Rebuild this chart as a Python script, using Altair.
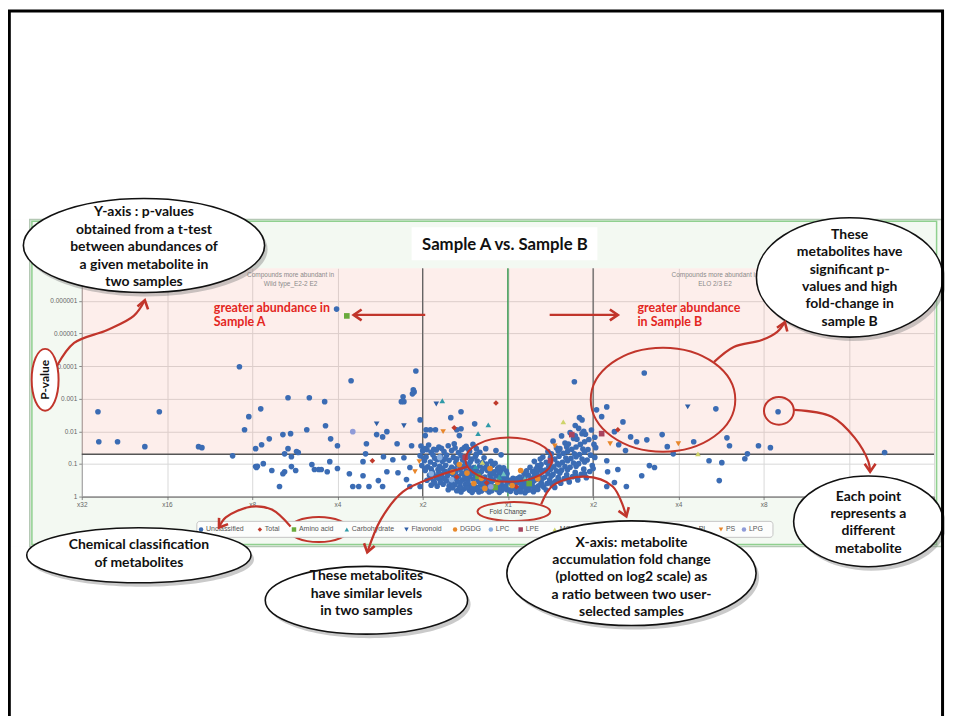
import altair as alt
import pandas as pd

# ---------------- metabolite points ----------------
# each pair: (log2 fold change, -log10 p-value)
unclassified_outer = [
    (-4.81, 2.60), (-4.80, 1.68), (-4.58, 1.68), (-4.26, 1.53), (-4.09, 2.60),
    (-3.63, 1.53), (-3.59, 1.50), (-3.23, 1.25), (-3.15, 3.98), (-3.09, 2.05),
    (-3.04, 2.45), (-2.90, 2.69), (-2.58, 3.03), (-2.96, 1.47), (-2.89, 1.59),
    (-2.80, 1.77), (-2.64, 1.90), (-2.55, 1.93), (-2.58, 1.47), (-2.62, 1.31),
    (-2.54, 1.22), (-2.96, 0.92), (-2.94, 0.93), (-2.95, 0.89), (-2.87, 1.01),
    (-2.77, 0.80), (-2.64, 0.70), (-2.62, 0.76), (-2.54, 0.92), (-2.49, 0.80),
    (-2.68, 0.31), (-2.48, 1.38), (-2.33, 3.03), (-2.15, 2.91), (-1.84, 3.55),
    (-1.08, 3.85), (-1.11, 3.27), (-1.10, 3.21), (-1.12, 3.15), (-1.23, 3.06),
    (-1.22, 2.91), (-1.25, 2.91), (-2.36, 2.05), (-2.14, 2.17), (-2.08, 1.77),
    (-2.00, 1.56), (-2.46, 1.35), (-1.54, 1.90), (-1.47, 1.83), (-1.42, 1.99),
    (-1.66, 1.62), (-1.30, 1.62), (-1.13, 1.56), (-1.67, 1.31), (-1.46, 1.22),
    (-1.35, 1.13), (-1.22, 1.19), (-1.03, 2.35), (-2.30, 0.98), (-2.27, 0.83),
    (-2.22, 0.83), (-2.19, 0.83), (-2.09, 1.07), (-2.12, 0.76), (-2.00, 0.86),
    (-1.86, 0.70), (-1.70, 1.07), (-1.70, 0.64), (-1.52, 0.49), (-1.42, 0.76),
    (-1.82, 0.31), (-1.75, 0.31), (-1.63, 0.31), (-1.47, 0.31), (-1.29, 0.73),
    (-1.15, 0.89), (-1.19, 0.52), (-1.15, 0.31), (-1.03, 0.31), (-0.67, 2.42),
    (-0.55, 2.60), (-0.96, 2.05), (-0.91, 2.05), (-0.85, 2.05), (-0.60, 2.05),
    (-0.55, 2.08), (-0.39, 2.23), (-0.97, 1.87), (-0.57, 1.87), (-0.63, 1.62),
    (-0.99, 1.44), (-0.95, 1.44), (-0.51, 1.50), (-0.46, 1.44), (-0.37, 1.47),
    (-0.26, 1.47), (-0.14, 1.41), (-0.08, 1.28), (-2.01, 5.75),
    (0.78, 3.52), (1.60, 3.79), (1.16, 2.75), (1.04, 2.66), (1.10, 2.45),
    (1.35, 2.29), (2.44, 2.69), (3.17, 2.60), (0.84, 2.42), (0.87, 2.35),
    (1.25, 1.99), (1.44, 1.83), (1.51, 1.68), (1.63, 1.74), (1.81, 1.90),
    (1.87, 1.53), (2.18, 1.68), (1.94, 1.31), (1.38, 1.41), (1.30, 1.59),
    (2.36, 1.10), (2.48, 0.49), (1.66, 0.95), (1.72, 0.89), (1.57, 0.64),
    (1.25, 0.43), (1.39, 0.31), (1.16, 0.31), (1.16, 1.10), (1.17, 0.76),
    (1.29, 0.83), (2.57, 1.80), (2.60, 1.56), (2.51, 1.04), (2.81, 1.31),
    (2.78, 1.16), (2.94, 1.56), (3.08, 1.50), (4.42, 1.35),
]

unclassified_left_cluster = [
    (-1.02, 1.55), (-0.93, 1.58), (-0.81, 1.52), (-0.70, 1.56), (-0.62, 1.49), (-0.49, 1.54), (-0.41, 1.60),
    (-1.00, 1.40), (-0.90, 1.36), (-0.84, 1.43), (-0.75, 1.38), (-0.66, 1.41), (-0.58, 1.35), (-0.45, 1.39), (-0.33, 1.36),
    (-1.03, 1.25), (-0.96, 1.21), (-0.88, 1.28), (-0.79, 1.23), (-0.72, 1.27), (-0.64, 1.20), (-0.55, 1.26), (-0.47, 1.22),
    (-0.38, 1.24), (-0.28, 1.19),
    (-0.98, 1.10), (-0.91, 1.06), (-0.83, 1.13), (-0.77, 1.08), (-0.69, 1.11), (-0.61, 1.05), (-0.53, 1.12), (-0.44, 1.07),
    (-0.36, 1.09), (-0.30, 1.04), (-0.20, 1.08),
    (-1.01, 0.95), (-0.94, 0.91), (-0.86, 0.98), (-0.80, 0.93), (-0.73, 0.96), (-0.66, 0.90), (-0.59, 0.97), (-0.52, 0.92),
    (-0.46, 0.95), (-0.40, 0.89), (-0.33, 0.94), (-0.25, 0.91), (-0.18, 0.96), (-0.10, 0.90),
    (-0.97, 0.80), (-0.89, 0.77), (-0.82, 0.83), (-0.74, 0.78), (-0.68, 0.81), (-0.61, 0.76), (-0.56, 0.84), (-0.49, 0.79),
    (-0.43, 0.75), (-0.37, 0.82), (-0.31, 0.77), (-0.24, 0.80), (-0.16, 0.76), (-0.08, 0.81), (-0.02, 0.78),
    (-0.92, 0.65), (-0.85, 0.62), (-0.78, 0.68), (-0.71, 0.63), (-0.64, 0.67), (-0.58, 0.61), (-0.51, 0.66), (-0.45, 0.62),
    (-0.39, 0.69), (-0.33, 0.64), (-0.27, 0.60), (-0.21, 0.67), (-0.14, 0.63), (-0.07, 0.66),
    (-0.95, 0.50), (-0.87, 0.47), (-0.80, 0.53), (-0.72, 0.48), (-0.65, 0.52), (-0.59, 0.46), (-0.53, 0.51), (-0.47, 0.49),
    (-0.41, 0.54), (-0.35, 0.47), (-0.29, 0.52), (-0.23, 0.48), (-0.17, 0.50), (-0.11, 0.46), (-0.05, 0.53),
    (-0.90, 0.35), (-0.83, 0.32), (-0.76, 0.38), (-0.69, 0.33), (-0.62, 0.36), (-0.56, 0.31), (-0.50, 0.37), (-0.44, 0.34),
    (-0.38, 0.30), (-0.32, 0.36), (-0.26, 0.33), (-0.20, 0.38), (-0.14, 0.31), (-0.08, 0.35), (-0.03, 0.32),
    (-0.70, 0.21), (-0.60, 0.18), (-0.52, 0.23), (-0.45, 0.19), (-0.38, 0.22), (-0.31, 0.17), (-0.25, 0.21), (-0.19, 0.18),
    (-0.13, 0.22), (-0.07, 0.19), (-0.01, 0.21),
    (-0.97, 1.47), (-0.87, 1.45), (-0.78, 1.48), (-0.54, 1.44), (-0.37, 1.30),
    (-0.99, 1.17), (-0.86, 1.18), (-0.74, 1.15), (-0.60, 1.16), (-0.50, 1.02), (-0.42, 1.15), (-0.25, 1.00), (-0.15, 1.02),
    (-0.97, 0.87), (-0.90, 0.85), (-0.77, 0.86), (-0.63, 0.84), (-0.55, 0.88), (-0.42, 0.85), (-0.29, 0.86), (-0.21, 0.84),
    (-0.12, 0.86), (-0.05, 0.88),
    (-0.88, 0.71), (-0.81, 0.73), (-0.68, 0.72), (-0.54, 0.71), (-0.42, 0.72), (-0.36, 0.70), (-0.18, 0.71), (-0.10, 0.73),
    (-0.01, 0.70),
    (-0.91, 0.57), (-0.83, 0.58), (-0.75, 0.56), (-0.62, 0.58), (-0.49, 0.56), (-0.38, 0.58), (-0.32, 0.57), (-0.20, 0.56),
    (-0.09, 0.58), (-0.02, 0.60),
    (-0.86, 0.42), (-0.79, 0.44), (-0.66, 0.42), (-0.56, 0.43), (-0.47, 0.42), (-0.32, 0.43), (-0.26, 0.41), (-0.20, 0.44),
    (-0.08, 0.42), (-0.01, 0.45),
    (-0.65, 0.27), (-0.57, 0.26), (-0.48, 0.27), (-0.41, 0.26), (-0.35, 0.25), (-0.28, 0.27), (-0.22, 0.26), (-0.16, 0.27),
    (-0.10, 0.25), (-0.04, 0.26),
    (-0.55, 0.14), (-0.42, 0.13), (-0.34, 0.14), (-0.22, 0.14), (-0.10, 0.13),
]

unclassified_right_cluster = [
    (0.03, 0.16), (0.05, 0.24), (0.08, 0.31), (0.04, 0.40), (0.09, 0.47), (0.06, 0.56),
    (0.12, 0.19), (0.15, 0.26), (0.18, 0.34), (0.13, 0.42), (0.17, 0.51), (0.14, 0.60), (0.19, 0.71),
    (0.22, 0.18), (0.25, 0.29), (0.28, 0.37), (0.23, 0.46), (0.27, 0.55), (0.24, 0.66), (0.29, 0.77), (0.26, 0.90),
    (0.32, 0.24), (0.36, 0.33), (0.39, 0.43), (0.33, 0.52), (0.37, 0.61), (0.34, 0.72), (0.38, 0.84), (0.35, 0.95),
    (0.31, 1.08),
    (0.42, 0.29), (0.46, 0.40), (0.49, 0.51), (0.43, 0.59), (0.47, 0.70), (0.44, 0.81), (0.48, 0.92), (0.45, 1.05),
    (0.41, 1.21), (0.47, 1.38),
    (0.52, 0.35), (0.56, 0.47), (0.59, 0.58), (0.53, 0.68), (0.57, 0.79), (0.54, 0.91), (0.58, 1.02), (0.55, 1.15),
    (0.51, 1.31), (0.57, 1.49), (0.53, 1.70),
    (0.62, 0.41), (0.66, 0.55), (0.69, 0.67), (0.63, 0.81), (0.67, 0.92), (0.64, 1.05), (0.68, 1.18), (0.65, 1.33),
    (0.61, 1.47), (0.67, 1.64), (0.63, 1.86),
    (0.72, 0.45), (0.76, 0.61), (0.79, 0.74), (0.73, 0.90), (0.77, 1.03), (0.74, 1.17), (0.78, 1.31), (0.75, 1.45),
    (0.71, 1.61), (0.77, 1.78), (0.73, 1.96), (0.79, 2.18),
    (0.82, 0.51), (0.86, 0.68), (0.89, 0.84), (0.83, 1.01), (0.87, 1.15), (0.84, 1.29), (0.88, 1.46), (0.85, 1.60),
    (0.81, 1.76), (0.87, 1.93), (0.83, 2.09),
    (0.92, 0.58), (0.96, 0.77), (0.99, 0.95), (0.93, 1.12), (0.97, 1.27), (0.94, 1.44), (1.01, 1.60), (0.95, 1.75),
    (0.91, 1.91), (0.98, 2.04),
    (0.10, 0.13), (0.30, 0.15), (0.45, 0.20), (0.20, 0.12),
    (0.02, 0.20), (0.07, 0.36), (0.02, 0.50), (0.10, 0.24), (0.16, 0.38), (0.11, 0.55), (0.20, 0.28), (0.21, 0.42),
    (0.20, 0.60), (0.22, 0.79), (0.30, 0.30), (0.30, 0.47), (0.31, 0.64), (0.33, 0.85), (0.40, 0.36), (0.40, 0.54),
    (0.40, 0.75), (0.39, 0.98), (0.38, 1.15), (0.50, 0.43), (0.51, 0.63), (0.50, 0.84), (0.49, 1.00), (0.50, 1.20),
    (0.60, 0.50), (0.61, 0.72), (0.60, 0.97), (0.60, 1.24), (0.59, 1.40), (0.70, 0.55), (0.70, 0.82), (0.70, 1.10),
    (0.70, 1.38), (0.69, 1.52), (0.80, 0.62), (0.80, 0.93), (0.80, 1.22), (0.80, 1.52), (0.79, 1.86), (0.90, 0.70),
    (0.90, 1.06), (0.90, 1.37), (0.90, 1.68), (0.89, 2.00), (1.00, 0.86), (1.02, 1.20), (1.03, 1.50), (1.02, 1.82),
    (0.15, 0.15), (0.25, 0.20), (0.35, 0.22), (0.55, 0.28),
]

total_pts = [(-0.14, 2.87), (-0.63, 2.11), (-1.59, 1.10), (1.29, 2.05), (-0.25, 0.42), (-0.60, 0.60), (0.10, 0.30)]
amino_acid_pts = [(-1.89, 5.54), (-0.15, 0.28), (0.25, 0.40), (-0.35, 0.62)]
carbohydrate_pts = [(-0.77, 2.94), (-0.23, 2.20), (-0.35, 1.93), (-0.38, 0.92), (-0.10, 0.60)]
flavonoid_pts = [(-1.54, 2.23), (-1.22, 2.17), (-0.84, 2.84), (2.11, 2.75)]
dgdg_pts = [(-0.48, 0.72), (-0.31, 0.56), (-0.21, 0.86), (-0.12, 0.44), (-0.57, 0.98), (0.05, 0.34),
            (-0.40, 0.40), (-0.65, 0.75), (0.35, 0.55), (-0.27, 0.25), (0.15, 0.80)]
lpc_pts = [(-0.80, 1.20), (-0.66, 0.52), (-0.90, 0.70)]
lpe_pts = [(1.10, 1.93), (0.50, 1.10), (-0.50, 1.20), (0.75, 1.90)]
mgdg_pts = [(0.65, 2.29), (2.23, 1.31), (-0.30, 1.05)]
pi_pts = [(0.20, 0.55), (-0.05, 0.70)]
ps_pts = [(-0.76, 1.99), (-1.09, 0.76), (-1.04, 1.07), (2.00, 1.62), (1.20, 1.62), (0.55, 1.55)]
lpg_pts = [(-1.82, 1.99), (-0.20, 0.30)]

# ---------------- classes / legend ----------------
legend_classes = ["Unclassified", "Total", "Amino acid", "Carbohydrate", "Flavonoid", "DGDG", "LPC", "LPE",
                  "MGDG", "PC", "PE", "PG", "PI", "PS", "LPG"]
legend_colors = ["#3b6cb4", "#c0392b", "#6aaa3c", "#2f9aa8", "#2f5fa7", "#e8892b", "#88aee0", "#a8445f",
                 "#cfd36a", "#4e9a4e", "#9b59b6", "#e5a0b0", "#6fc2c0", "#e8862a", "#8f9bd8"]
legend_shapes = ["circle", "diamond", "square", "triangle-up", "triangle-down", "circle", "circle", "square",
                 "triangle-up", "circle", "square", "circle", "triangle-up", "triangle-down", "circle"]
legend_pos = [-3.60, -2.91, -2.51, -1.89, -1.19, -0.62, -0.20, 0.15, 0.55, 1.08, 1.39, 1.71, 2.18, 2.50, 2.77]
legend_row = -1.01

x_ticks = [-5, -4, -3, -2, -1, 0, 1, 2, 3, 4, 5]      # log2 fold change
y_ticks = [0, 1, 2, 3, 4, 5, 6]                       # -log10 p
p_threshold_nlp = 1.301                                # p = 0.05
dark_lines = [-1, 1]
center_line = [0]

title_text = "Sample A vs. Sample B"

# ---------------- annotations (positions in chart units) ----------------
callouts = pd.DataFrame([
    dict(x=-4.27, y=7.70, w=242, r=0.39, ty=8.72,
         t="Y-axis : p-values\nobtained from a t-test\nbetween abundances of\na given metabolite in\ntwo samples"),
    dict(x=4.01, y=6.72, w=187, r=0.64, ty=8.03,
         t="These\nmetabolites have\nsignificant p-\nvalues and high\nfold-change in\nsample B"),
    dict(x=-4.33, y=-1.80, w=225, r=0.245, ty=-1.50, t="Chemical classification\nof metabolites"),
    dict(x=-1.66, y=-3.18, w=203, r=0.335, ty=-2.45, t="These metabolites\nhave similar levels\nin two samples"),
    dict(x=1.45, y=-2.35, w=250, r=0.42, ty=-1.41,
         t="X-axis: metabolite\naccumulation fold change\n(plotted on log2 scale) as\na ratio between two user-\nselected samples"),
    dict(x=4.23, y=-0.76, w=150, r=0.607, ty=0.00, t="Each point\nrepresents a\ndifferent\nmetabolite"),
])

rings = pd.DataFrame([
    dict(x=0.07, y=-0.46, w=73, r=0.26),
    dict(x=-2.22, y=-1.01, w=60, r=0.42),
    dict(x=0.01, y=1.13, w=87, r=0.51),
    dict(x=1.82, y=2.97, w=145, r=0.72),
    dict(x=3.18, y=2.63, w=30, r=0.93),
])
pvalue_ring = pd.DataFrame([dict(x=-5.43, y=3.58, w=27, r=2.3, t="P-value")])

arrows = {
    "a1": [(-5.29, 4.01), (-5.09, 4.71), (-4.70, 5.11), (-4.39, 5.54), (-4.26, 6.02)],
    "a2": [(-2.55, -0.92), (-2.77, -0.40), (-3.01, -0.31), (-3.31, -0.64), (-3.39, -0.95)],
    "a3": [(-0.47, 0.92), (-0.85, 0.61), (-1.23, 0.15), (-1.49, -0.70), (-1.65, -1.71)],
    "a4": [(0.39, -0.24), (0.53, 0.34), (0.90, 0.61), (1.23, 0.31), (1.39, -0.61)],
    "a5": [(2.42, 4.13), (2.65, 4.59), (2.98, 4.80), (3.16, 5.05), (3.25, 5.35)],
    "a6": [(3.36, 2.66), (3.80, 2.45), (4.07, 1.80), (4.23, 1.07), (4.25, 0.76)],
    "a7": [(-0.97, 5.57), (-1.81, 5.57)],
    "a8": [(0.49, 5.57), (1.29, 5.57)],
}
arrow_angles = {"a1": 285, "a2": 125, "a3": 105, "a4": 70, "a5": 290, "a6": 90, "a7": 180, "a8": 0}

RED = "#c1352b"
LATO = "Lato"

# ---------------- build tables ----------------
class_points = [
    ("Unclassified", unclassified_outer + unclassified_left_cluster + unclassified_right_cluster),
    ("Total", total_pts), ("Amino acid", amino_acid_pts), ("Carbohydrate", carbohydrate_pts),
    ("Flavonoid", flavonoid_pts), ("DGDG", dgdg_pts), ("LPC", lpc_pts), ("LPE", lpe_pts),
    ("MGDG", mgdg_pts), ("PI", pi_pts), ("PS", ps_pts), ("LPG", lpg_pts),
]
rows = []
for cls, pts in class_points:
    for fc, nlp in pts:
        rows.append(dict(x=fc, y=nlp, cls=cls))
points = pd.DataFrame(rows)

legend_df = pd.DataFrame(dict(x=legend_pos, y=[legend_row] * len(legend_pos), cls=legend_classes))


def ellipse_path(r):
    return f"M -1 0 A 1 {r} 0 1 0 1 0 A 1 {r} 0 1 0 -1 0 Z"


for df in (callouts, rings, pvalue_ring):
    df["shape"] = [ellipse_path(r) for r in df["r"]]
    df["size"] = [w * w for w in df["w"]]
callout_text = pd.DataFrame(dict(x=callouts["x"], y=callouts["ty"], t=callouts["t"]))

arrow_rows, head_rows = [], []
for k, pts in arrows.items():
    for i, (ax_, ay_) in enumerate(pts):
        arrow_rows.append(dict(id=k, i=i, x=ax_, y=ay_))
    head_rows.append(dict(id=k, x=pts[-1][0], y=pts[-1][1], angle=arrow_angles[k]))
arrow_df = pd.DataFrame(arrow_rows)
head_df = pd.DataFrame(head_rows)

# ---------------- scales and shared axes ----------------
xs = alt.Scale(domain=[-5, 5], nice=False, zero=False)
ys = alt.Scale(domain=[0, 7], nice=False, zero=False)
color_scale = alt.Scale(domain=legend_classes, range=legend_colors)
shape_scale = alt.Scale(domain=legend_classes, range=legend_shapes)

x_axis = alt.Axis(values=x_ticks,
                  labelExpr="datum.value >= 4 ? '' : 'x' + pow(2, abs(datum.value))", title=None,
                  grid=True, gridColor="#d9d9d9", domainColor="#555", tickColor="#888", tickSize=3,
                  labelFontSize=6.5, labelColor="#666", labelFont="Liberation Sans", labelFlush=False,
                  labelPadding=2)
y_axis = alt.Axis(values=y_ticks,
                  labelExpr="datum.value == 0 ? '1' : format(pow(10, -datum.value), '.' + datum.value + 'f')",
                  title=None, grid=True, gridColor="#d9d9d9", domainColor="#999", tickColor="#888",
                  tickSize=3, labelFontSize=6.5, labelColor="#666", labelFont="Liberation Sans",
                  labelFlush=False, labelPadding=2)

XE = alt.X("x:Q", scale=xs, axis=x_axis)
YE = alt.Y("y:Q", scale=ys, axis=y_axis)


def rects(df, **mark):
    return alt.Chart(df).mark_rect(**mark).encode(x=XE, x2="x2:Q", y=YE, y2="y2:Q")


def texts(df, **mark):
    return alt.Chart(df).mark_text(**mark).encode(x=XE, y=YE, text="t:N")


def ellipses(df, **mark):
    return alt.Chart(df).mark_point(opacity=1, **mark).encode(
        x=XE, y=YE, shape=alt.Shape("shape:N", scale=None), size=alt.Size("size:Q", scale=None))


# background covers outside the chart box (svg background is the box's light green)
covers = pd.DataFrame(dict(x=[-6.3, -6.3, -6.3, 5.09], x2=[5.5, 5.5, -5.61, 5.5],
                           y=[8.50, -8.0, -1.53, -1.53], y2=[16.0, -1.53, 8.50, 8.50]))
box_outer = pd.DataFrame(dict(x=[-5.61], x2=[5.09], y=[-1.53], y2=[8.50]))
box_inner = pd.DataFrame(dict(x=[-5.585], x2=[5.03], y=[-1.47], y2=[8.44]))
title_box = pd.DataFrame(dict(x=[-1.13], x2=[1.05], y=[7.25], y2=[8.26]))
pink = pd.DataFrame(dict(x=[-5], x2=[5], y=[p_threshold_nlp], y2=[7]))
legend_box = pd.DataFrame(dict(x=[-3.65], x2=[3.11], y=[-1.25], y2=[-0.76]))
frame = pd.DataFrame(dict(x=[-5.85], x2=[5.10], y=[-8.0], y2=[14.89]))

layers = []
layers.append(rects(covers, color="white", stroke="white", strokeWidth=0.5))
layers.append(rects(box_outer, fillOpacity=0, stroke="#b4c8b4", strokeWidth=1.5))
layers.append(rects(box_inner, fillOpacity=0, stroke="#8fd08f", strokeWidth=1.5))
layers.append(rects(title_box, color="white"))
layers.append(texts(pd.DataFrame(dict(x=[-0.035], y=[7.71], t=[title_text])),
                    font=LATO, fontWeight="bold", fontSize=16.8, color="#111"))
layers.append(rects(pink, color="#f08a7a", opacity=0.15))

# compound header labels
layers.append(texts(pd.DataFrame(dict(x=[-2.55, 2.43], y=[6.79, 6.79],
                                      t=["Compounds more abundant in\nWild type_E2-2 E2",
                                         "Compounds more abundant in\nELO 2/3 E2"])),
                    font="Liberation Sans", fontSize=6.5, color="#8a8a8a", lineBreak="\n", lineHeight=9))

# reference lines
layers.append(alt.Chart(pd.DataFrame(dict(x=dark_lines, y=[0, 0], y2=[7, 7]))).mark_rule(
    color="#5a5a5a", strokeWidth=1.2).encode(x=XE, y=YE, y2="y2:Q"))
layers.append(alt.Chart(pd.DataFrame(dict(x=center_line, y=[0], y2=[7]))).mark_rule(
    color="#3c9a55", strokeWidth=1.5).encode(x=XE, y=YE, y2="y2:Q"))
layers.append(alt.Chart(pd.DataFrame(dict(x=[-5], x2=[5], y=[p_threshold_nlp]))).mark_rule(
    color="#555555", strokeWidth=1.5).encode(x=XE, x2="x2:Q", y=YE))

# scatter points
layers.append(alt.Chart(points).mark_point(filled=True, size=32, opacity=1).encode(
    x=XE, y=YE,
    color=alt.Color("cls:N", scale=color_scale, legend=None),
    shape=alt.Shape("cls:N", scale=shape_scale, legend=None)))

# red "greater abundance" texts
layers.append(texts(pd.DataFrame(dict(x=[-3.45, 1.52], y=[5.78, 5.78],
                                      t=["greater abundance in\nSample A", "greater abundance\nin Sample B"])),
                    font=LATO, fontWeight="bold", fontSize=12.5, color="#e3261e", align="left",
                    lineBreak="\n", lineHeight=14))

# red rings
layers.append(ellipses(rings, filled=False, stroke=RED, strokeWidth=2))

# legend (manual, partially hidden by callouts as in the original)
layers.append(rects(legend_box, color="#fcfdfc", stroke="#c4c4c4", strokeWidth=1, cornerRadius=3))
layers.append(alt.Chart(legend_df).mark_point(filled=True, size=20, opacity=1).encode(
    x=XE, y=YE,
    color=alt.Color("cls:N", scale=color_scale, legend=None),
    shape=alt.Shape("cls:N", scale=shape_scale, legend=None)))
layers.append(alt.Chart(legend_df).mark_text(align="left", dx=5, fontSize=7, font="Liberation Sans",
                                             color="#555").encode(x=XE, y=YE, text="cls:N"))

# x-axis title
layers.append(texts(pd.DataFrame(dict(x=[0.0], y=[-0.46], t=["Fold Change"])),
                    font="Liberation Sans", fontSize=6.5, color="#444"))

# callout ellipses with shadows
layers.append(ellipses(callouts, filled=True, color="#7a7a7a", fillOpacity=0.4, xOffset=3, yOffset=4))
layers.append(ellipses(callouts, filled=True, fill="white", stroke="#111", strokeWidth=1.6))
layers.append(texts(callout_text, font=LATO, fontWeight="bold", fontSize=14, color="#111",
                    lineBreak="\n", lineHeight=17.5))

# P-value ring
layers.append(ellipses(pvalue_ring, filled=True, fill="white", stroke=RED, strokeWidth=2))
layers.append(texts(pvalue_ring, font=LATO, fontWeight="bold", fontSize=12, color="#111", angle=270))

# red arrows
layers.append(alt.Chart(arrow_df).mark_line(color=RED, strokeWidth=2.2, interpolate="catmull-rom").encode(
    x=XE, y=YE, detail="id:N", order="i:Q"))
layers.append(alt.Chart(head_df).mark_point(shape="M -1.6 -1.1 L 0 0 L -1.6 1.1", size=100, filled=False,
                                            stroke=RED, strokeWidth=2.6, opacity=1).encode(
    x=XE, y=YE, angle=alt.Angle("angle:Q", scale=None)))

# slide frame
layers.append(rects(frame, fillOpacity=0, stroke="black", strokeWidth=3))

chart = alt.layer(*layers).properties(
    width=855, height=229,
    padding={"left": 74, "top": 260, "right": 11, "bottom": 219},
    autosize=alt.AutoSizeParams(type="none"),
    background="#f3f9f2",
).configure_view(fill="white", stroke=None)

chart.save("out.html", embed_options={"renderer": "svg", "actions": False})
